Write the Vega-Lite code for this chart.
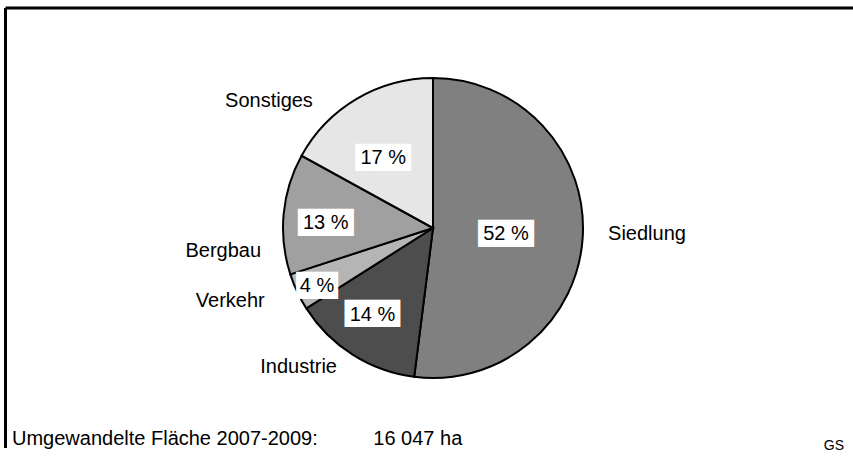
{
  "$schema": "https://vega.github.io/schema/vega-lite/v6.json",
  "width": 855,
  "height": 440,
  "autosize": {"type": "none"},
  "padding": {"left": 5.5, "top": 8, "right": -7.5, "bottom": 11},
  "background": "white",
  "view": {"stroke": "#000000", "strokeWidth": 3, "strokeDash": [855, 1295, 440, 0], "fill": "white"},
  "config": {
    "font": "Liberation Sans"
  },
  "title": {
    "text": "Umgewandelte Fläche 2007-2009:\u00a0\u00a0\u00a0\u00a0\u00a0\u00a0\u00a0\u00a0\u00a0 16\u00a0047 ha",
    "orient": "bottom",
    "anchor": "start",
    "frame": "group",
    "baseline": "alphabetic",
    "offset": -8,
    "dx": 6.5,
    "fontSize": 20,
    "fontWeight": "normal",
    "font": "Liberation Sans",
    "color": "black"
  },
  "data": {
    "values": [
      {"Kategorie": "Siedlung", "Anteil": 52, "Nr": 1, "Beschriftung": "52 %"},
      {"Kategorie": "Industrie", "Anteil": 14, "Nr": 2, "Beschriftung": "14 %"},
      {"Kategorie": "Verkehr", "Anteil": 4, "Nr": 3, "Beschriftung": "4 %"},
      {"Kategorie": "Bergbau", "Anteil": 13, "Nr": 4, "Beschriftung": "13 %"},
      {"Kategorie": "Sonstiges", "Anteil": 17, "Nr": 5, "Beschriftung": "17 %"}
    ]
  },
  "layer": [
    {
      "mark": {"type": "arc", "outerRadius": 150, "stroke": "black", "strokeWidth": 2},
      "encoding": {
        "theta": {"field": "Anteil", "type": "quantitative", "stack": true, "scale": {"domain": [0, 100], "range": [0, 6.283185307]}},
        "color": {
          "field": "Kategorie", "type": "nominal", "legend": null,
          "scale": {
            "domain": ["Siedlung", "Industrie", "Verkehr", "Bergbau", "Sonstiges"],
            "range": ["#808080", "#4d4d4d", "#b5b5b5", "#a0a0a0", "#e6e6e6"]
          }
        },
        "order": {"field": "Nr", "type": "quantitative"}
      }
    },
    {
      "mark": {"type": "text", "fontSize": 20, "font": "Liberation Sans", "align": "center", "baseline": "alphabetic", "color": "black"},
      "encoding": {
        "theta": {"field": "Anteil", "type": "quantitative", "stack": true,
          "scale": {"type": "linear", "domain": [0, 26, 59, 68, 76.5, 91.5, 100], "range": [0, 1.6266, 3.8903, 4.3389, 4.5763, 5.3477, 6.2832], "zero": false, "nice": false}},
        "radius": {"field": "Anteil", "type": "quantitative",
          "scale": {"type": "linear", "domain": [4, 13, 14, 17, 52], "range": [217.7, 211.7, 197.4, 203.8, 214.3], "zero": false, "nice": false}},
        "text": {"field": "Kategorie", "type": "nominal"},
        "detail": {"field": "Kategorie", "type": "nominal"},
        "order": {"field": "Nr", "type": "quantitative"}
      }
    },
    {
      "mark": {"type": "text", "fontSize": 23, "font": "DejaVu Sans Mono", "align": "center", "baseline": "alphabetic", "dy": 8, "color": "white"},
      "encoding": {
        "theta": {"field": "Anteil", "type": "quantitative", "stack": true,
          "scale": {"type": "linear", "domain": [0, 26, 59, 68, 76.5, 91.5, 100], "range": [0, 1.6389, 3.7577, 4.2551, 4.7717, 5.6706, 6.2832], "zero": false, "nice": false}},
        "radius": {"field": "Anteil", "type": "quantitative",
          "scale": {"type": "linear", "domain": [4, 13, 14, 17, 52], "range": [129.2, 107.4, 104.7, 86.5, 73.2], "zero": false, "nice": false}},
        "text": {"condition": {"test": "datum.Anteil < 10", "value": "███"}, "value": "████"},
        "detail": {"field": "Kategorie", "type": "nominal"},
        "order": {"field": "Nr", "type": "quantitative"}
      }
    },
    {
      "mark": {"type": "text", "fontSize": 20, "font": "Liberation Sans", "align": "center", "baseline": "alphabetic", "dy": 7.2, "color": "black"},
      "encoding": {
        "theta": {"field": "Anteil", "type": "quantitative", "stack": true,
          "scale": {"type": "linear", "domain": [0, 26, 59, 68, 76.5, 91.5, 100], "range": [0, 1.6389, 3.7577, 4.2551, 4.7717, 5.6706, 6.2832], "zero": false, "nice": false}},
        "radius": {"field": "Anteil", "type": "quantitative",
          "scale": {"type": "linear", "domain": [4, 13, 14, 17, 52], "range": [129.2, 107.4, 104.7, 86.5, 73.2], "zero": false, "nice": false}},
        "text": {"field": "Beschriftung", "type": "nominal"},
        "detail": {"field": "Kategorie", "type": "nominal"},
        "order": {"field": "Nr", "type": "quantitative"}
      }
    },
    {
      "data": {"values": [{"Kuerzel": "GS"}]},
      "mark": {"type": "text", "x": {"expr": "width - 16.5"}, "y": {"expr": "height + 2"}, "align": "right", "baseline": "alphabetic", "fontSize": 14, "font": "Liberation Sans", "color": "black"},
      "encoding": {"text": {"field": "Kuerzel", "type": "nominal"}}
    }
  ],
  "resolve": {"scale": {"theta": "independent", "radius": "independent"}}
}
